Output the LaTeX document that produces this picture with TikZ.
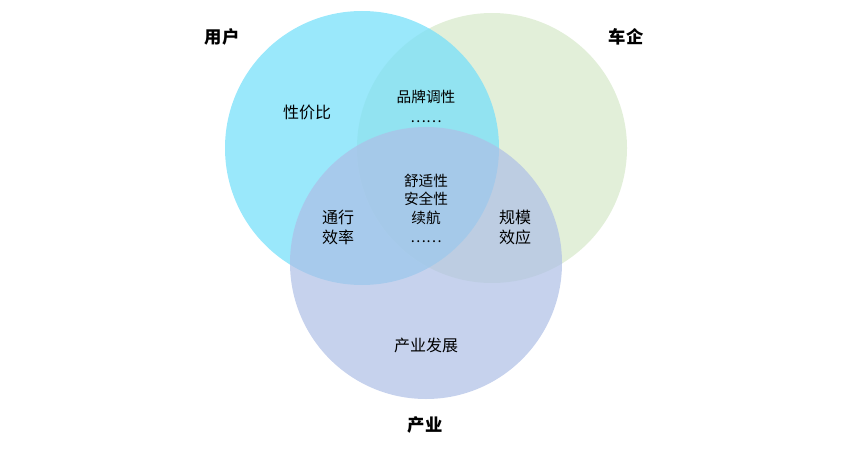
\documentclass[tikz,border=0pt]{standalone}
\usepackage{fontspec}
\newfontfamily\cjk{Noto Sans CJK SC}
\begin{document}
\begin{tikzpicture}[x=0.75pt,y=-0.75pt,
  lbl/.style={font=\cjk\fontsize{13}{15}\selectfont\bfseries},
  txt/.style={font=\cjk\fontsize{12}{15}\selectfont, align=center},
  stxt/.style={font=\cjk\fontsize{11}{13}\selectfont, align=center, inner sep=0pt}]
\useasboundingbox (0,0) rectangle (852,449);
\definecolor{cy}{HTML}{78E0FA}
\definecolor{gr}{HTML}{E2EFD9}
\definecolor{bl}{HTML}{AEBFE6}
\fill[gr] (492,148) circle (135);
\fill[cy, fill opacity=0.75] (362,148) circle (137);
\fill[bl, fill opacity=0.7] (426,263) circle (136);
\node[lbl] (u) at (222,37) {用户};
\node[lbl] (c) at (626,37) {车企};
\node[lbl] (p) at (425,425) {产业};
\node[txt] (a) at (307,112) {性价比};
\node[stxt] (b) at (426,106) {品牌调性\\[2pt]……};
\node[stxt] (m) at (426,208) {舒适性\\[1pt]安全性\\[1pt]续航\\[1pt]……};
\node[txt] (l) at (338,227) {通行\\效率};
\node[txt] (r) at (515,227) {规模\\效应};
\node[txt] (d) at (426,345) {产业发展};
\end{tikzpicture}
\end{document}
